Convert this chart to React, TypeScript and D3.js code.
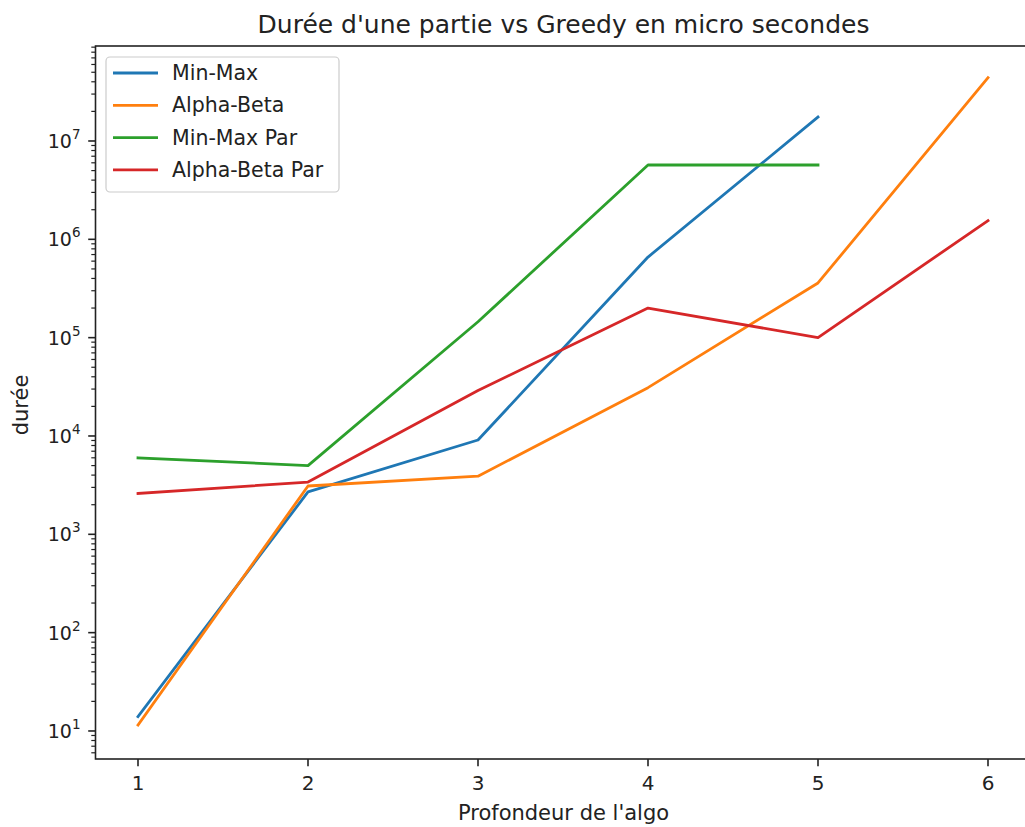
import React from 'react';
import * as d3 from 'd3';

const depths = [1, 2, 3, 4, 5, 6];
const minMax = [14, 2700, 9100, 660000, 17500000];
const alphaBeta = [11.5, 3100, 3900, 31000, 360000, 44000000];
const minMaxPar = [6000, 5000, 145000, 5700000, 5700000];
const alphaBetaPar = [2600, 3400, 29000, 200000, 100000, 1550000];

const seriesNames = ['Min-Max', 'Alpha-Beta', 'Min-Max Par', 'Alpha-Beta Par'];
const seriesColors = ['#1f77b4', '#ff7f0e', '#2ca02c', '#d62728'];
const seriesValues = [minMax, alphaBeta, minMaxPar, alphaBetaPar];

const yDecades = [1, 2, 3, 4, 5, 6, 7];

const W = 1025;
const H = 827;
const margin = { top: 46, bottom: 68, left: 95.5, right: -5.5 };
const font = 'DejaVu Sans, sans-serif';

export default function App() {
  const x = d3.scaleLinear()
    .domain([0.75, 6.25])
    .range([margin.left, W - margin.right]);
  const y = d3.scaleLog()
    .domain([Math.pow(10, 0.715), Math.pow(10, 7.966)])
    .range([H - margin.bottom, margin.top]);

  const line = d3.line<number>()
    .x((d, i) => x(depths[i]))
    .y((d) => y(d));

  const [y0, y1] = y.domain();
  const minors: number[] = [];
  for (let e = 0; e <= 8; e++) {
    for (let m = 2; m <= 9; m++) {
      const v = m * Math.pow(10, e);
      if (v >= y0 && v <= y1) minors.push(v);
    }
  }

  const left = margin.left;
  const bottom = H - margin.bottom;

  return (
    <svg width={W} height={H} style={{ position: 'absolute', left: 0, top: 0, background: '#fff' }} fontFamily={font}>
      <text x={563.5} y={33} textAnchor="middle" fontSize={25} fill="#222">
        Durée d'une partie vs Greedy en micro secondes
      </text>

      <g clipPath="url(#plot)">
        <clipPath id="plot">
          <rect x={left} y={margin.top} width={W - margin.right - left} height={bottom - margin.top} />
        </clipPath>
        {seriesValues.map((vals, i) => (
          <path key={i} d={line(vals) || ''} fill="none" stroke={seriesColors[i]} strokeWidth={2.8} strokeLinejoin="round" strokeLinecap="square" />
        ))}
      </g>

      {/* spines */}
      <rect x={left} y={margin.top} width={W - margin.right - left} height={bottom - margin.top} fill="none" stroke="#222" strokeWidth={1.6} />

      {/* x ticks */}
      {depths.map((d) => (
        <g key={d} transform={`translate(${x(d)},${bottom})`}>
          <line y2={7.3} stroke="#222" strokeWidth={1.6} />
          <text y={31} textAnchor="middle" fontSize={20} fill="#222">{d}</text>
        </g>
      ))}

      {/* y ticks */}
      {minors.map((v, i) => (
        <line key={i} x1={left - 4.2} x2={left} y1={y(v)} y2={y(v)} stroke="#222" strokeWidth={1.2} />
      ))}
      {yDecades.map((e) => (
        <g key={e} transform={`translate(${left},${y(Math.pow(10, e))})`}>
          <line x1={-7.3} stroke="#222" strokeWidth={1.6} />
          <text x={-15} y={7} textAnchor="end" fontSize={19} fill="#222">
            10<tspan dy={-9} fontSize={13.5}>{e}</tspan>
          </text>
        </g>
      ))}

      <text x={563.5} y={820} textAnchor="middle" fontSize={21} fill="#222">Profondeur de l'algo</text>
      <text transform="translate(28,405) rotate(-90)" textAnchor="middle" fontSize={21} fill="#222">durée</text>

      {/* legend */}
      <rect x={106} y={57} width={233} height={135} rx={4} fill="#fff" fillOpacity={0.8} stroke="#ccc" strokeWidth={1.2} />
      {seriesNames.map((n, i) => (
        <g key={n} transform={`translate(113,${73 + i * 32.3})`}>
          <line x1={0} x2={45} stroke={seriesColors[i]} strokeWidth={2.8} />
          <text x={59} y={7} fontSize={20.5} fill="#222">{n}</text>
        </g>
      ))}
    </svg>
  );
}
